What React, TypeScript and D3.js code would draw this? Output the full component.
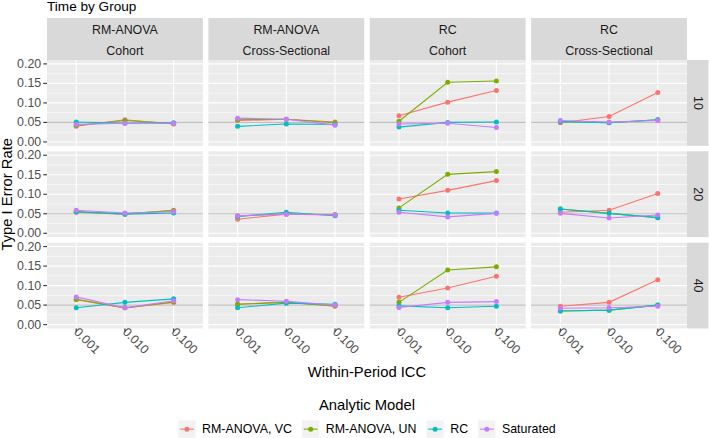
import React from "react";
import * as d3 from "d3";

const iccLevels = ["0.001", "0.010", "0.100"];
const sampleSizes = ["10", "20", "40"];
const analysisLabels = ["RM-ANOVA", "RM-ANOVA", "RC", "RC"];
const designLabels = ["Cohort", "Cross-Sectional", "Cohort", "Cross-Sectional"];
const modelNames = ["RM-ANOVA, VC", "RM-ANOVA, UN", "RC", "Saturated"];
const modelColors = ["#F8766D", "#7CAE00", "#00BFC4", "#C77CFF"];
const yTicks = [0, 0.05, 0.1, 0.15, 0.2];
const yMinorTicks = [0.025, 0.075, 0.125, 0.175];
const nominalAlpha = 0.05;

// Type I error rates: [sample size row][design column][ICC level]
const rmAnovaVC = [
  [[0.040, 0.057, 0.046], [0.055, 0.058, 0.051], [0.067, 0.102, 0.132], [0.049, 0.065, 0.127]],
  [[0.054, 0.049, 0.059], [0.036, 0.049, 0.048], [0.088, 0.110, 0.135], [0.054, 0.059, 0.102]],
  [[0.064, 0.043, 0.057], [0.052, 0.058, 0.047], [0.070, 0.094, 0.124], [0.047, 0.057, 0.115]],
];
const rmAnovaUN = [
  [[0.042, 0.055, 0.047], [0.057, 0.058, 0.049], [0.053, 0.153, 0.156], [0.052, 0.049, 0.057]],
  [[0.055, 0.050, 0.058], [0.044, 0.050, 0.047], [0.065, 0.151, 0.158], [0.062, 0.051, 0.040]],
  [[0.065, 0.043, 0.058], [0.052, 0.057, 0.048], [0.057, 0.140, 0.148], [0.035, 0.037, 0.050]],
];
const rcModel = [
  [[0.051, 0.048, 0.049], [0.040, 0.046, 0.045], [0.038, 0.050, 0.051], [0.052, 0.049, 0.057]],
  [[0.055, 0.049, 0.052], [0.043, 0.054, 0.045], [0.059, 0.052, 0.052], [0.062, 0.051, 0.040]],
  [[0.043, 0.057, 0.066], [0.043, 0.055, 0.052], [0.048, 0.043, 0.047], [0.035, 0.037, 0.050]],
];
const saturated = [
  [[0.045, 0.048, 0.048], [0.061, 0.058, 0.043], [0.046, 0.048, 0.037], [0.055, 0.051, 0.055]],
  [[0.059, 0.052, 0.055], [0.045, 0.049, 0.047], [0.054, 0.042, 0.051], [0.051, 0.039, 0.047]],
  [[0.071, 0.043, 0.061], [0.064, 0.060, 0.050], [0.044, 0.057, 0.059], [0.042, 0.043, 0.047]],
];
const modelData = [rmAnovaVC, rmAnovaUN, rcModel, saturated];

const W = 709;
const H = 438;
const FONT = "'Liberation Sans', Arial, Helvetica, sans-serif";

function measure(text: string, size: number) {
  try {
    const c = document.createElement("canvas").getContext("2d");
    if (c) {
      c.font = `${size}px 'Liberation Sans', Arial, sans-serif`;
      return c.measureText(text).width;
    }
  } catch (e) {}
  return text.length * size * 0.56;
}

export default function App() {
  const plotL = 47, plotR = 687, plotT = 60, plotB = 328.5, gap = 5.5;
  const stripTop = 18;
  const stripRightW = 21.5;
  const pw = (plotR - plotL - 3 * gap) / 4;
  const ph = (plotB - plotT - 2 * gap) / 3;

  const x = d3.scalePoint<string>().domain(iccLevels).range([0, pw]).padding(0.6);
  const y = d3.scaleLinear().domain([-0.01, 0.21]).range([ph, 0]);
  const line = d3
    .line<number>()
    .x((_, i) => x(iccLevels[i]) as number)
    .y((d) => y(d));
  const fmt = d3.format(".2f");

  const colX = (c: number) => plotL + c * (pw + gap);
  const rowY = (r: number) => plotT + r * (ph + gap);

  // legend layout
  const legSize = 12.4;
  const keyW = 17.3;
  const keyGap = 6.5;
  const itemGap = 10;
  const widths = modelNames.map((n) => measure(n, legSize));
  const totalW =
    widths.reduce((a, b) => a + b, 0) + modelNames.length * (keyW + keyGap) + (modelNames.length - 1) * itemGap;
  const legCx = (plotL + plotR) / 2;
  let cursor = legCx - totalW / 2;
  const legItems = modelNames.map((n, i) => {
    const item = { name: n, color: modelColors[i], x: cursor, w: widths[i] };
    cursor += keyW + keyGap + widths[i] + itemGap;
    return item;
  });
  const keyTop = 420.5;

  return (
    <svg
      width={W}
      height={H}
      viewBox={`0 0 ${W} ${H}`}
      style={{ position: "absolute", left: 0, top: 0, background: "#FFFFFF" }}
      fontFamily={FONT}
    >
      <rect x={0} y={0} width={W} height={H} fill="#FFFFFF" />
      <text x={plotL} y={10.5} fontSize={13.6} fill="#000000">
        Time by Group
      </text>

      {/* top strips */}
      {analysisLabels.map((a, c) => (
        <g key={"strip" + c} transform={`translate(${colX(c)},${stripTop})`}>
          <rect x={0} y={0} width={pw} height={plotT - stripTop} fill="#D9D9D9" />
          <text x={pw / 2} y={15.8} textAnchor="middle" fontSize={12.4} fill="#1A1A1A">
            {a}
          </text>
          <text x={pw / 2} y={36.8} textAnchor="middle" fontSize={12.4} fill="#1A1A1A">
            {designLabels[c]}
          </text>
        </g>
      ))}

      {/* right strips */}
      {sampleSizes.map((s, r) => (
        <g key={"rstrip" + r} transform={`translate(${plotR},${rowY(r)})`}>
          <rect x={0} y={0} width={stripRightW} height={ph} fill="#D9D9D9" />
          <text
            transform={`translate(${stripRightW / 2},${ph / 2}) rotate(90)`}
            textAnchor="middle"
            dominantBaseline="central"
            fontSize={12.4}
            fill="#1A1A1A"
          >
            {s}
          </text>
        </g>
      ))}

      {/* panels */}
      {sampleSizes.map((s, r) =>
        analysisLabels.map((a, c) => (
          <g key={`p${r}-${c}`} transform={`translate(${colX(c)},${rowY(r)})`}>
            <rect x={0} y={0} width={pw} height={ph} fill="#EBEBEB" />
            {yMinorTicks.map((t) => (
              <line key={"mi" + t} x1={0} x2={pw} y1={y(t)} y2={y(t)} stroke="#FFFFFF" strokeWidth={0.55} />
            ))}
            {yTicks.map((t) => (
              <line key={"ma" + t} x1={0} x2={pw} y1={y(t)} y2={y(t)} stroke="#FFFFFF" strokeWidth={1.1} />
            ))}
            {iccLevels.map((l) => (
              <line
                key={"vx" + l}
                x1={x(l)}
                x2={x(l)}
                y1={0}
                y2={ph}
                stroke="#FFFFFF"
                strokeWidth={1.1}
              />
            ))}
            <line
              x1={0}
              x2={pw}
              y1={y(nominalAlpha)}
              y2={y(nominalAlpha)}
              stroke="#BEBEBE"
              strokeWidth={1.1}
            />
            {modelData.map((md, m) => (
              <g key={"m" + m}>
                <path d={line(md[r][c]) || ""} fill="none" stroke={modelColors[m]} strokeWidth={1.1} />
                {md[r][c].map((v, i) => (
                  <circle key={i} cx={x(iccLevels[i])} cy={y(v)} r={2.5} fill={modelColors[m]} />
                ))}
              </g>
            ))}
          </g>
        ))
      )}

      {/* y axes */}
      {sampleSizes.map((s, r) => (
        <g key={"ya" + r} transform={`translate(${plotL},${rowY(r)})`}>
          {yTicks.map((t) => (
            <g key={t}>
              <line x1={-3.7} x2={0} y1={y(t)} y2={y(t)} stroke="#333333" strokeWidth={1.1} />
              <text
                x={-5.8}
                y={y(t)}
                textAnchor="end"
                dominantBaseline="central"
                fontSize={12.4}
                fill="#4D4D4D"
              >
                {fmt(t)}
              </text>
            </g>
          ))}
        </g>
      ))}

      {/* x axes */}
      {analysisLabels.map((a, c) => (
        <g key={"xa" + c} transform={`translate(${colX(c)},${plotB})`}>
          {iccLevels.map((l) => (
            <g key={l}>
              <line x1={x(l)} x2={x(l)} y1={0} y2={3.7} stroke="#333333" strokeWidth={1.1} />
              <text
                transform={`translate(${(x(l) as number) - 3},${4.2}) rotate(45)`}
                fontSize={12.4}
                fill="#4D4D4D"
              >
                {l}
              </text>
            </g>
          ))}
        </g>
      ))}

      {/* axis titles */}
      <text x={(plotL + plotR) / 2} y={377} textAnchor="middle" fontSize={14.8} fill="#000000">
        Within-Period ICC
      </text>
      <text
        transform={`translate(12,${(plotT + plotB) / 2}) rotate(-90)`}
        textAnchor="middle"
        fontSize={14.8}
        fill="#000000"
      >
        Type I Error Rate
      </text>

      {/* legend */}
      <text x={legCx} y={409.5} textAnchor="middle" fontSize={14.8} fill="#000000">
        Analytic Model
      </text>
      {legItems.map((it) => (
        <g key={it.name}>
          <rect x={it.x} y={keyTop} width={keyW} height={keyW} fill="#F2F2F2" />
          <line
            x1={it.x + 1.7}
            x2={it.x + keyW - 1.7}
            y1={keyTop + keyW / 2}
            y2={keyTop + keyW / 2}
            stroke={it.color}
            strokeWidth={1.1}
          />
          <circle cx={it.x + keyW / 2} cy={keyTop + keyW / 2} r={2.5} fill={it.color} />
          <text
            x={it.x + keyW + keyGap}
            y={keyTop + keyW / 2}
            dominantBaseline="central"
            fontSize={legSize}
            fill="#000000"
          >
            {it.name}
          </text>
        </g>
      ))}
    </svg>
  );
}
